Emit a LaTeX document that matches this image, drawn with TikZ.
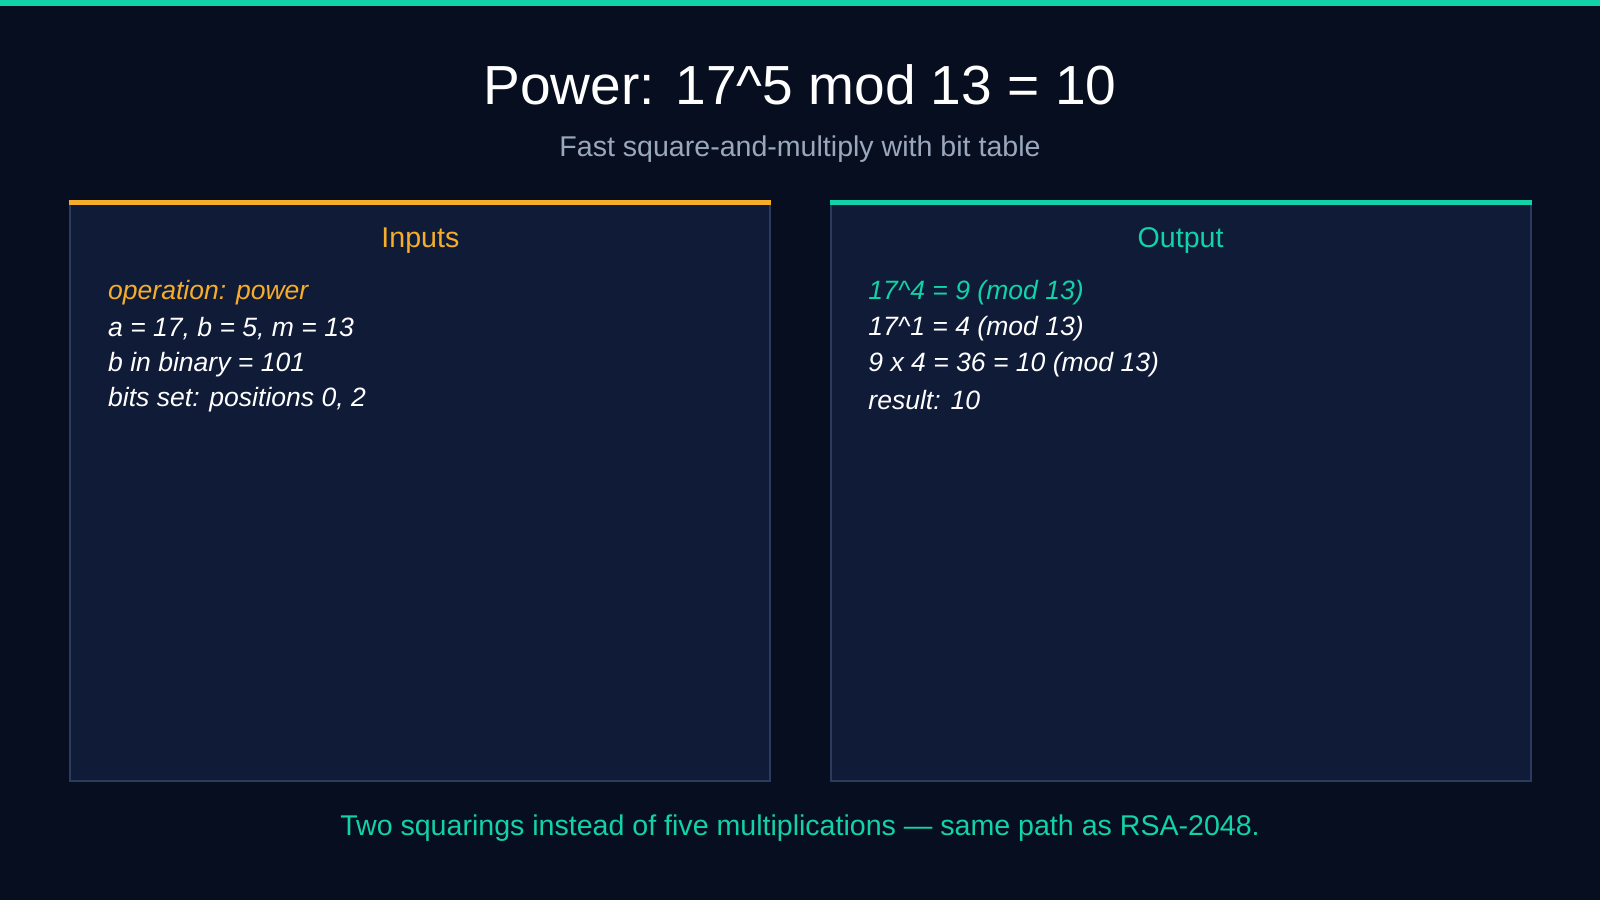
\documentclass[tikz,border=0pt]{standalone}
\usepackage{fontspec}
\setmainfont{Liberation Sans}
\definecolor{bgcol}{HTML}{070E1F}
\definecolor{panelcol}{HTML}{101B37}
\definecolor{edgecol}{HTML}{2B3B5E}
\definecolor{orangecol}{HTML}{F5AD2A}
\definecolor{tealcol}{HTML}{12D2A8}
\definecolor{greycol}{HTML}{9AA8BE}
\begin{document}
\begin{tikzpicture}[x=0.5pt,y=-0.5pt,
  panel/.style={fill=panelcol,draw=edgecol,line width=1pt},
  head/.style={font=\fontsize{14}{16}\selectfont},
  line/.style={anchor=west,text=white,font=\fontsize{13}{15}\selectfont\itshape}]
  \fill[bgcol] (0,0) rectangle (1568,882);
  \useasboundingbox (0,0) rectangle (1568,882);
  \fill[tealcol] (0,0) rectangle (1568,6);

  \node[text=white,font=\fontsize{27}{30}\selectfont] (title) at (784,83) {Power: 17\^{}5 mod 13 = 10};
  \node[text=greycol,font=\fontsize{14}{16}\selectfont] (sub) at (784,146) {Fast square-and-multiply with bit table};

  % inputs
  \draw[panel] (69,199) rectangle (755,765);
  \fill[orangecol] (68,196) rectangle (756,201);
  \node[head,text=orangecol] (inhead) at (412,236) {Inputs};
  \node[line,text=orangecol] (in1) at (99,287) {operation: power};
  \node[line] (in2) at (99,322) {a = 17, b = 5, m = 13};
  \node[line] (in3) at (99,357) {b in binary = 101};
  \node[line] (in4) at (99,392) {bits set: positions 0, 2};

  % output
  \draw[panel] (814,199) rectangle (1500,765);
  \fill[tealcol] (813,196) rectangle (1501,201);
  \node[head,text=tealcol] (outhead) at (1157,236) {Output};
  \node[line,text=tealcol] (out1) at (844,287) {17\^{}4 = 9 (mod 13)};
  \node[line] (out2) at (844,322) {17\^{}1 = 4 (mod 13)};
  \node[line] (out3) at (844,357) {9 x 4 = 36 = 10 (mod 13)};
  \node[line] (out4) at (844,392) {result: 10};

  \node[text=tealcol,font=\fontsize{14}{16}\selectfont] (foot) at (784,812) {Two squarings instead of five multiplications — same path as RSA-2048.};
\end{tikzpicture}
\end{document}
